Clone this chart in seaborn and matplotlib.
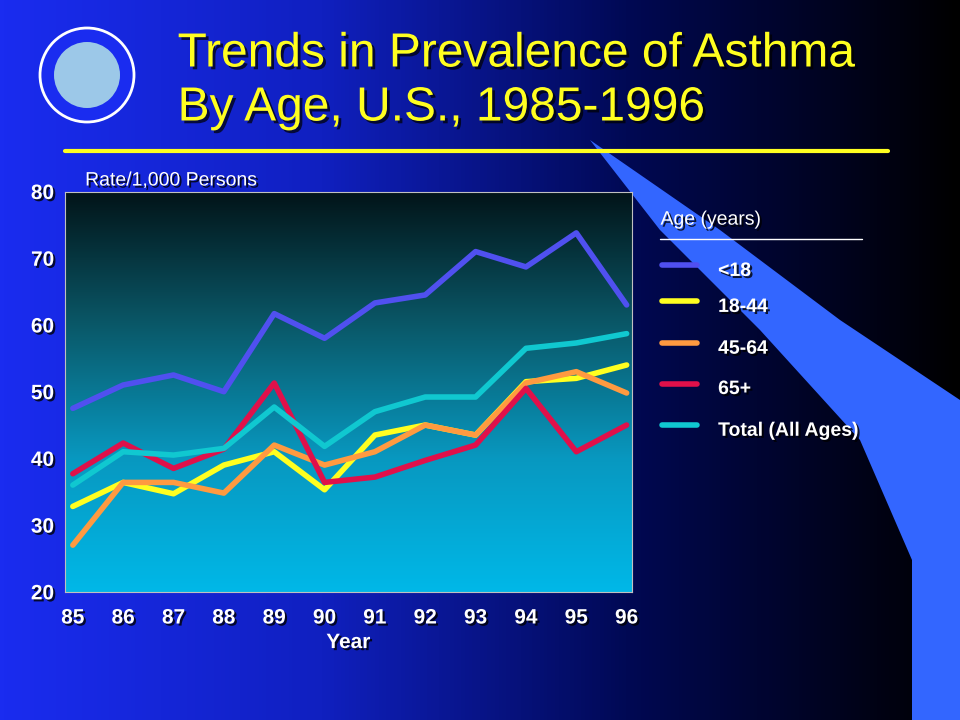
import numpy as np
import pandas as pd
import seaborn as sns
import matplotlib.pyplot as plt
import matplotlib.patheffects as pe
from matplotlib.colors import LinearSegmentedColormap

years = [85, 86, 87, 88, 89, 90, 91, 92, 93, 94, 95, 96]
under18 = [47.5, 51, 52.5, 50, 61.7, 58, 63.3, 64.5, 71, 68.7, 73.8, 63]
age18_44 = [32.8, 36.4, 34.7, 39, 41, 35.3, 43.5, 45, 43.5, 51.5, 52, 54]
age45_64 = [27, 36.4, 36.4, 34.8, 42, 39, 41, 45, 43.5, 51.3, 53, 49.8]
age65 = [37.7, 42.3, 38.5, 41.4, 51.3, 36.4, 37.2, 39.7, 42, 50.5, 41, 45]
total = [36, 41, 40.5, 41.5, 47.7, 41.8, 47, 49.2, 49.2, 56.5, 57.3, 58.7]
groups = ['<18', '18-44', '45-64', '65+', 'Total (All Ages)']
colors = ['#5050f0', '#ffff20', '#ff9a40', '#e0104a', '#10c8d0']

df = pd.concat([pd.DataFrame({'Year': years, 'Rate': v, 'Age': g})
                for g, v in zip(groups, [under18, age18_44, age45_64, age65, total])])

sns.set_style('white')
plt.rcParams['font.family'] = ['Liberation Sans', 'DejaVu Sans']
fig = plt.figure(figsize=(9.6, 7.2), dpi=100)

# slide background (pixel coords, y down)
bg = fig.add_axes([0, 0, 1, 1], zorder=-2)
bg_cmap = LinearSegmentedColormap.from_list('bg', ['#1a2cf0', '#1020c0', '#000850', '#000000'])
bg.imshow(np.tile(np.linspace(0, 1, 256), (2, 1)), aspect='auto', cmap=bg_cmap,
          extent=[0, 960, 720, 0])
sx = [590, 720, 840, 960, 960, 912, 912, 860, 760, 660, 590]
sy = [140, 230, 320, 400, 720, 720, 560, 440, 330, 230, 140]
bg.fill(sx, sy, color='#3366ff', lw=0)
bg.set_xlim(0, 960); bg.set_ylim(720, 0); bg.axis('off')

tshadow = [pe.withSimplePatchShadow(offset=(2, -2), shadow_rgbFace='black', alpha=0.7)]
fig.text(0.185, 0.925, 'Trends in Prevalence of Asthma', color='#ffff20', fontsize=34.5,
         va='center', path_effects=tshadow)
fig.text(0.185, 0.85, 'By Age, U.S., 1985-1996', color='#ffff20', fontsize=34.5,
         va='center', path_effects=tshadow)
bg.plot([65, 888], [151, 151], color='#ffff20', lw=3)
bg.add_patch(plt.Circle((87, 75), 47, facecolor='#1a2cf0', edgecolor='white', lw=2))
bg.add_patch(plt.Circle((87, 75), 33, facecolor='#9cc8e8', edgecolor='none'))

ax = fig.add_axes([0.068, 0.178, 0.59, 0.556])
grad = LinearSegmentedColormap.from_list('pa', ['#021418', '#0a5868', '#0898c0', '#00b8e8'])
ax.imshow(np.linspace(0, 1, 256)[:, None], aspect='auto', cmap=grad,
          extent=[84.85, 96.1, 20, 80], origin='upper', zorder=0)
sns.lineplot(data=df, x='Year', y='Rate', hue='Age', palette=colors, lw=4, ax=ax,
             legend=False, zorder=3)
ax.set_xlim(84.85, 96.1)
ax.set_ylim(20, 80)
ax.set_xticks(years)
ax.set_yticks([20, 30, 40, 50, 60, 70, 80])
shadow = [pe.withSimplePatchShadow(offset=(1.5, -1.5), shadow_rgbFace='black', alpha=0.8)]
ax.set_xticklabels(years, color='white', fontsize=15, fontweight='bold', path_effects=shadow)
ax.set_yticklabels([20, 30, 40, 50, 60, 70, 80], color='white', fontsize=15, fontweight='bold',
                   path_effects=shadow)
ax.tick_params(axis='both', colors='white', length=8, direction='in')
ax.tick_params(axis='x', pad=12)
ax.tick_params(axis='y', pad=8)
for lab in ax.get_yticklabels() + ax.get_xticklabels():
    lab.set_color('white')
ax.set_xlabel('Year', color='white', fontsize=15, fontweight='bold', path_effects=shadow)
ax.set_ylabel('')
for s in ax.spines.values():
    s.set_color('#c0c0c0')
ax.text(0.035, 1.005, 'Rate/1,000 Persons', transform=ax.transAxes, color='white',
        fontsize=14, va='bottom', path_effects=shadow)

# legend
fig.text(0.688, 0.688, 'Age (years)', color='white', fontsize=14, path_effects=shadow)
bg.plot([660, 862], [239, 239], color='white', lw=1)
ys = [0.623, 0.573, 0.515, 0.459, 0.401]
for g, c, y in zip(groups, colors, ys):
    bg.plot([662, 697], [720 * (1 - y) - 6, 720 * (1 - y) - 6], color=c, lw=4)
    fig.text(0.748, y, g, color='white', fontsize=14, fontweight='bold', va='center',
             path_effects=shadow)

fig.savefig('out.png', dpi=100)
